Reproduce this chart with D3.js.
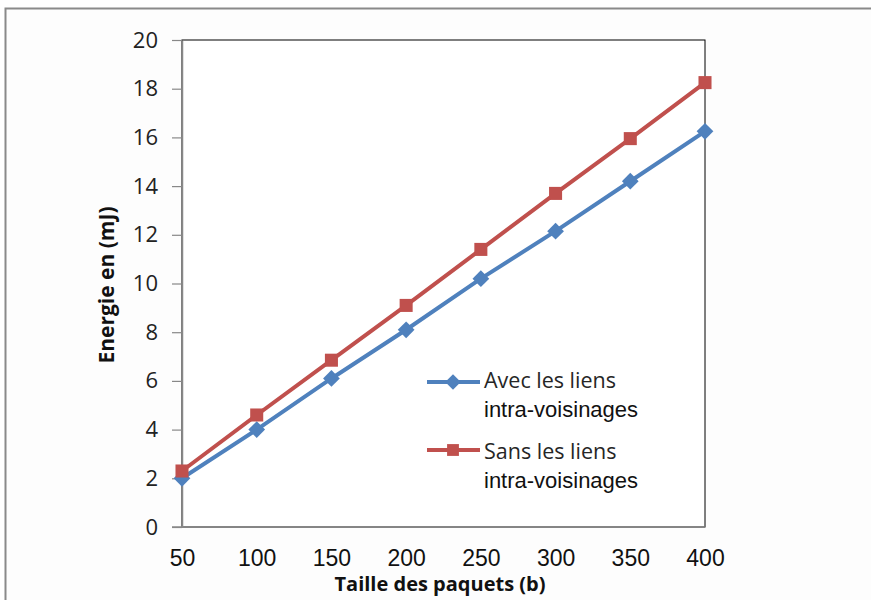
<!DOCTYPE html>
<html><head><meta charset="utf-8">
<script src="https://cdn.jsdelivr.net/npm/d3@7"></script>
<style>body{margin:0;background:#fff}svg{display:block}</style>
</head><body>
<svg id="c" width="871" height="600"></svg>
<script>
const categories = [50, 100, 150, 200, 250, 300, 350, 400];
const avecValues = [2.0, 4.0, 6.1, 8.1, 10.2, 12.15, 14.2, 16.25];
const sansValues = [2.3, 4.6, 6.85, 9.1, 11.4, 13.7, 15.95, 18.25];
const yTicks = [0, 2, 4, 6, 8, 10, 12, 14, 16, 18, 20];
const seriesNames = [["Avec les liens", "intra-voisinages"], ["Sans les liens", "intra-voisinages"]];
const xTitle = "Taille des paquets (b)";
const yTitle = "Energie en (mJ)";

(function () {
const svg = d3.select("#c");
const pLeft = 182, pRight = 705, pTop = 40, pBottom = 527;

// outer frame
svg.append("rect").attr("x", 5.5).attr("y", 8.5).attr("width", 900).attr("height", 700)
  .attr("fill", "#fdfdfd").attr("stroke", "#8a8a8a").attr("stroke-width", 2);

const x = d3.scalePoint().domain(categories).range([pLeft, pRight]);
const y = d3.scaleLinear().domain([0, 20]).range([pBottom, pTop]);

// plot border (top/right)
svg.append("rect").attr("x", pLeft).attr("y", pTop).attr("width", pRight - pLeft).attr("height", pBottom - pTop)
  .attr("fill", "#fff").attr("stroke", "#000").attr("stroke-width", 1);

// y axis
const yAxis = d3.axisLeft(y).tickValues(yTicks).tickSize(10).tickPadding(14).tickSizeOuter(0);
const ga = svg.append("g").attr("transform", `translate(${pLeft},0)`).call(yAxis);
ga.select(".domain").attr("stroke", "#888").attr("stroke-width", 1.5);
ga.selectAll(".tick line").attr("stroke", "#888").attr("stroke-width", 1.2);
ga.selectAll(".tick text").attr("font-family", "Open Sans, Liberation Sans, sans-serif")
  .attr("font-size", 22).attr("fill", "#222");

// x axis
const xAxis = d3.axisBottom(x).tickSize(0).tickPadding(18).tickSizeOuter(0);
const gx = svg.append("g").attr("transform", `translate(0,${pBottom})`).call(xAxis);
gx.select(".domain").remove();
svg.append("line").attr("x1", pLeft - 10).attr("x2", pRight).attr("y1", pBottom).attr("y2", pBottom)
  .attr("stroke", "#888").attr("stroke-width", 1.5);
gx.selectAll(".tick text").attr("font-family", "Liberation Sans, Arial, sans-serif")
  .attr("font-size", 23).attr("fill", "#111").attr("y", 39).attr("dy", 0);

// titles
svg.append("text").attr("x", 440).attr("y", 591).attr("text-anchor", "middle")
  .attr("font-family", "Open Sans, Liberation Sans, sans-serif").attr("font-weight", "bold")
  .attr("font-size", 20).attr("fill", "#111").text(xTitle);
svg.append("text").attr("transform", "translate(114,285) rotate(-90)").attr("text-anchor", "middle")
  .attr("font-family", "Open Sans, Liberation Sans, sans-serif").attr("font-weight", "bold")
  .attr("font-size", 21).attr("fill", "#111").text(yTitle);

const line = d3.line().x((d, i) => x(categories[i])).y(d => y(d));
const colors = ["#4F81BD", "#C0504D"];
const data = [avecValues, sansValues];

data.forEach((vals, si) => {
  svg.append("path").datum(vals).attr("d", line).attr("fill", "none")
    .attr("stroke", colors[si]).attr("stroke-width", 4);
});
data.forEach((vals, si) => {
  const g = svg.append("g");
  vals.forEach((v, i) => {
    if (si === 0) {
      g.append("path").attr("d", d3.symbol().type(d3.symbolSquare).size(140)())
        .attr("transform", `translate(${x(categories[i])},${y(v)}) rotate(45)`).attr("fill", colors[0]);
    } else {
      g.append("path").attr("d", d3.symbol().type(d3.symbolSquare).size(170)())
        .attr("transform", `translate(${x(categories[i])},${y(v)})`).attr("fill", colors[1]);
    }
  });
});

// legend
const legY = [382, 450];
const legText = [[388, 417], [459, 488]];
seriesNames.forEach((nm, si) => {
  const ly = legY[si];
  svg.append("line").attr("x1", 427).attr("x2", 480).attr("y1", ly).attr("y2", ly)
    .attr("stroke", colors[si]).attr("stroke-width", 4);
  const sym = svg.append("path").attr("fill", colors[si]);
  if (si === 0) sym.attr("d", d3.symbol().type(d3.symbolSquare).size(120)()).attr("transform", `translate(453,${ly}) rotate(45)`);
  else sym.attr("d", d3.symbol().type(d3.symbolSquare).size(140)()).attr("transform", `translate(453,${ly})`);
  svg.append("text").attr("x", 484).attr("y", legText[si][0])
    .attr("font-family", "Open Sans, Liberation Sans, sans-serif").attr("font-size", 21.5).attr("fill", "#262626").text(nm[0]);
  svg.append("text").attr("x", 484).attr("y", legText[si][1])
    .attr("font-family", "Liberation Sans, Arial, sans-serif").attr("font-size", 22).attr("fill", "#111").text(nm[1]);
});
})();
</script>
</body></html>
